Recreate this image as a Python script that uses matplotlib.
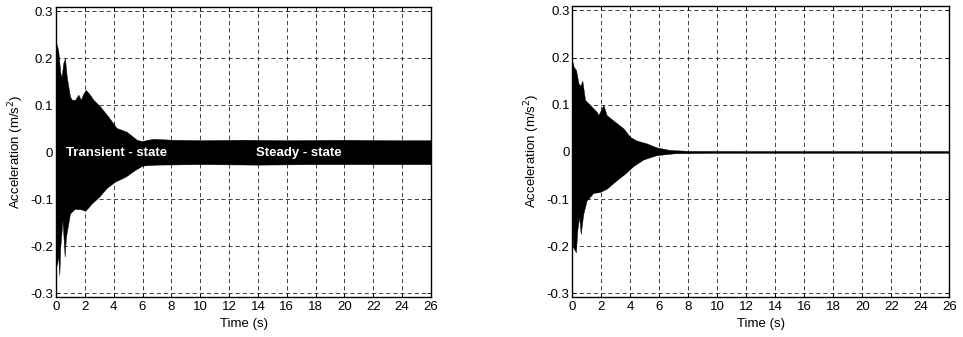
import matplotlib
matplotlib.use("Agg")
import matplotlib.pyplot as plt
import numpy as np

plt.rcParams['font.family'] = ['Liberation Sans', 'DejaVu Sans']

# Left panel: envelope of acceleration signal (upper / lower)
left_t_up = [0.0, 0.05, 0.16, 0.30, 0.39, 0.50, 0.62, 0.75, 0.97, 1.10, 1.32, 1.45, 1.55, 1.72, 1.90, 2.06, 2.30, 2.59, 3.05, 3.63, 4.20, 4.90, 5.60, 5.94, 6.40, 6.75, 8.0, 10.0, 13.0, 16.0, 20.0, 23.0, 26.0]
left_v_up = [0.23, 0.23, 0.215, 0.17, 0.16, 0.19, 0.20, 0.16, 0.119, 0.112, 0.112, 0.118, 0.123, 0.112, 0.125, 0.133, 0.125, 0.112, 0.098, 0.076, 0.052, 0.044, 0.027, 0.024, 0.027, 0.029, 0.027, 0.026, 0.027, 0.026, 0.027, 0.026, 0.026]
left_t_lo = [0.0, 0.05, 0.15, 0.23, 0.30, 0.45, 0.60, 0.69, 0.97, 1.30, 1.70, 2.04, 2.50, 3.00, 3.50, 4.10, 4.80, 5.50, 6.00, 7.0, 10.0, 14.0, 18.0, 22.0, 26.0]
left_v_lo = [-0.20, -0.24, -0.22, -0.261, -0.20, -0.144, -0.222, -0.18, -0.13, -0.12, -0.121, -0.124, -0.108, -0.094, -0.076, -0.062, -0.052, -0.037, -0.028, -0.026, -0.025, -0.026, -0.025, -0.025, -0.025]

# Right panel envelope
right_t_up = [0.0, 0.10, 0.255, 0.42, 0.55, 0.69, 0.88, 1.22, 1.68, 1.80, 2.14, 2.37, 2.94, 3.52, 3.98, 4.44, 5.13, 5.82, 6.74, 8.1, 12.0, 18.0, 26.0]
right_v_up = [0.193, 0.18, 0.174, 0.146, 0.14, 0.151, 0.110, 0.100, 0.085, 0.078, 0.100, 0.078, 0.064, 0.050, 0.032, 0.024, 0.018, 0.0095, 0.004, 0.0022, 0.002, 0.002, 0.002]
right_t_lo = [0.0, 0.05, 0.25, 0.34, 0.48, 0.58, 0.76, 0.99, 1.45, 1.91, 2.37, 3.06, 3.64, 4.21, 4.90, 5.80, 7.0, 10.0, 18.0, 26.0]
right_v_lo = [-0.17, -0.202, -0.213, -0.167, -0.138, -0.174, -0.131, -0.103, -0.087, -0.085, -0.078, -0.060, -0.046, -0.030, -0.016, -0.007, -0.003, -0.002, -0.002, -0.002]

x_ticks = list(range(0, 27, 2))
y_ticks = [-0.3, -0.2, -0.1, 0.0, 0.1, 0.2, 0.3]
y_tick_labels = ['-0.3', '-0.2', '-0.1', '0', '0.1', '0.2', '0.3']

fig = plt.figure(figsize=(9.63, 3.37), dpi=100)
W, H = 963, 337
ax1 = fig.add_axes([56 / W, 1 - 296.7 / H, (431 - 56) / W, (296.7 - 6.7) / H])
ax2 = fig.add_axes([572.3 / W, 1 - 296.7 / H, (949.3 - 572.3) / W, (296.7 - 5.7) / H])

fs = 9.5

def draw(ax, tu, vu, tl, vl):
    tt = np.union1d(np.asarray(tu, float), np.asarray(tl, float))
    up = np.interp(tt, tu, vu)
    lo = np.interp(tt, tl, vl)
    ax.fill_between(tt, lo, up, color='black', lw=0.3, edgecolor='black', zorder=3)
    ax.set_xlim(0, 26)
    ax.set_ylim(-0.307, 0.31)
    ax.set_xticks(x_ticks)
    ax.set_xticklabels([str(v) for v in x_ticks], fontsize=fs)
    ax.set_yticks(y_ticks)
    ax.set_yticklabels(y_tick_labels, fontsize=fs)
    ax.grid(True, color='#222222', linestyle=(0, (5, 3.6)), linewidth=0.6, zorder=1)
    ax.set_axisbelow(True)
    ax.tick_params(direction='in', length=3, width=0.6, top=True, right=True, pad=2)
    ax.tick_params(axis='x', pad=3)
    for s in ax.spines.values():
        s.set_linewidth(1.0)
        s.set_zorder(5)
    ax.set_xlabel('Time (s)', fontsize=fs, labelpad=4)
    ax.set_ylabel('Acceleration (m/s$^2$)', fontsize=fs, labelpad=3)

draw(ax1, left_t_up, left_v_up, left_t_lo, left_v_lo)
draw(ax2, right_t_up, right_v_up, right_t_lo, right_v_lo)

ax1.text(0.7, -0.001, 'Transient - state', color='white', fontsize=fs, fontweight='bold', va='center', ha='left', zorder=6)
ax1.text(13.9, -0.001, 'Steady - state', color='white', fontsize=fs, fontweight='bold', va='center', ha='left', zorder=6)

fig.savefig('out.png', dpi=100)
